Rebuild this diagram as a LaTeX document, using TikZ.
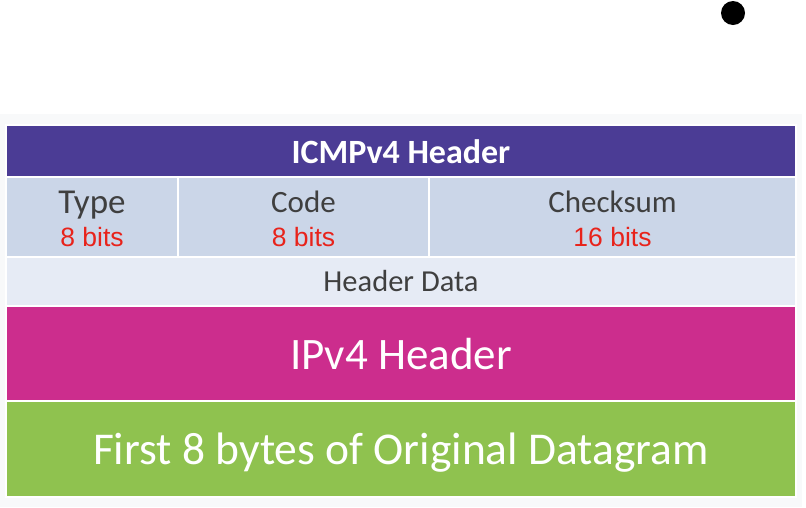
\documentclass[tikz,border=0pt]{standalone}
\usepackage{fontspec}
\setmainfont{Carlito}
\newfontfamily\arialfont{Liberation Sans}
\usepackage{tikz}
\usetikzlibrary{positioning}

\definecolor{hdrpurple}{HTML}{4B3C95}
\definecolor{fieldblue}{HTML}{CBD6E8}
\definecolor{datablue}{HTML}{E6EBF5}
\definecolor{ipmagenta}{HTML}{CC2D8D}
\definecolor{dgramgreen}{HTML}{8FC24F}
\definecolor{bitsred}{HTML}{E8231B}
\definecolor{labelgray}{HTML}{3F3F3F}
\definecolor{slidebg}{HTML}{F8F9FA}

\begin{document}
\begin{tikzpicture}[
    x=1pt, y=-1pt,
    cell/.style={
        draw=white,
        line width=1.5pt,
        inner sep=0pt,
        minimum height=#1
    },
    fieldname/.style={
        anchor=base,
        text=labelgray,
        font=\fontsize{31}{36}\selectfont
    },
    bitcount/.style={
        anchor=base,
        text=bitsred,
        font=\arialfont\fontsize{26.5}{30}\selectfont
    },
    bigtext/.style={
        anchor=base,
        text=white,
        font=\fontsize{45}{54}\selectfont
    }
]

    % Page size and slide background
    \useasboundingbox (0,0) rectangle (806,507);
    \fill[slidebg] (0,114) rectangle (802,507);

    % Pointer dot
    \node[circle, fill=black, inner sep=0pt, minimum size=24pt] (dot) at (733,13) {};

    % ICMP header band
    \node[cell=52pt, fill=hdrpurple, minimum width=790pt] (icmp) at (401,151) {};
    \node[anchor=base, text=white, font=\bfseries\fontsize{34}{40}\selectfont]
        (icmplbl) at ([yshift=-12pt]icmp.center) {ICMPv4 Header};

    % Type / Code / Checksum fields
    \node[cell=80pt, fill=fieldblue, minimum width=172pt] (type) at (92,217) {};
    \node[cell=80pt, fill=fieldblue, minimum width=251pt] (code) at (303.5,217) {};
    \node[cell=80pt, fill=fieldblue, minimum width=367pt] (checksum) at (612.5,217) {};

    \node[fieldname, font=\fontsize{35}{40}\selectfont] (typelbl) at ([yshift=4pt]type.center) {Type};
    \node[bitcount] (typebits) at ([yshift=-29pt]type.center) {8 bits};
    \node[fieldname] (codelbl) at ([yshift=5pt]code.center) {Code};
    \node[bitcount] (codebits) at ([yshift=-29pt]code.center) {8 bits};
    \node[fieldname] (checklbl) at ([yshift=5pt]checksum.center) {Checksum};
    \node[bitcount] (checkbits) at ([yshift=-29pt]checksum.center) {16 bits};

    % Header data row
    \node[cell=49pt, fill=datablue, minimum width=790pt] (hdata) at (401,281.5) {};
    \node[fieldname, font=\fontsize{30.5}{34}\selectfont] (hdatalbl) at ([yshift=-10pt]hdata.center) {Header Data};

    % IPv4 header
    \node[cell=95pt, fill=ipmagenta, minimum width=790pt] (ipv4) at (401,353.5) {};
    \node[bigtext] (ipv4lbl) at ([yshift=-16pt]ipv4.center) {IPv4 Header};

    % Original datagram
    \node[cell=96pt, fill=dgramgreen, minimum width=790pt] (orig) at (401,449) {};
    \node[bigtext, font=\fontsize{45.5}{54}\selectfont] (origlbl) at ([yshift=-15pt]orig.center) {First 8 bytes of Original Datagram};

\end{tikzpicture}
\end{document}
